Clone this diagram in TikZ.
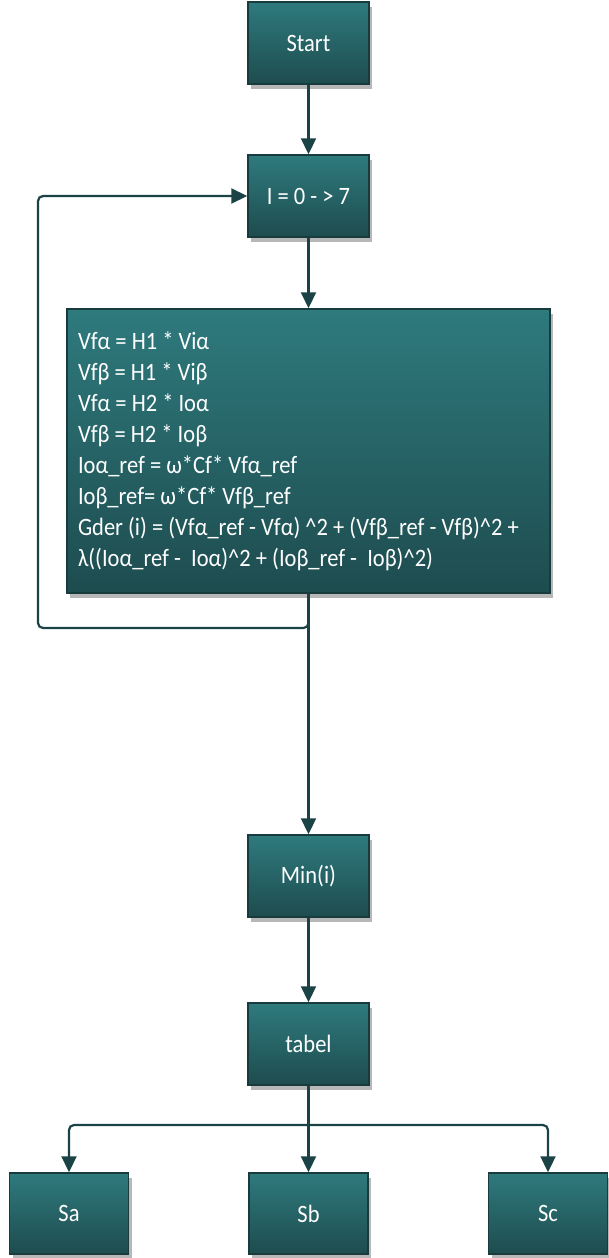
\documentclass[tikz,border=0pt]{standalone}
\usepackage{fontspec}
\setmainfont[FakeStretch=0.9]{Carlito}
\usetikzlibrary{arrows.meta,shadows}
\definecolor{topc}{HTML}{2E7A7D}
\definecolor{botc}{HTML}{1E4C4F}
\definecolor{edgec}{HTML}{183B3D}
\definecolor{linec}{HTML}{1B4345}
\begin{document}
\begin{tikzpicture}[x=1pt,y=-1pt,
 boxstyle/.style={draw=edgec, line width=1.5pt, top color=topc, bottom color=botc, text=white,
   font=\fontsize{25}{31}\selectfont, inner sep=0pt, minimum width=121pt, minimum height=82pt,
   drop shadow={shadow xshift=3pt, shadow yshift=-5pt, opacity=0.4, fill=black!70}},
 conn/.style={draw=linec, line width=2.2pt, rounded corners=5pt, -{Triangle[length=16pt,width=15pt]}},
 plainline/.style={draw=linec, line width=2.2pt, rounded corners=5pt}]
\useasboundingbox (0,0) rectangle (609,1258);
\node[boxstyle] (start) at (308.5,43) {Start};
\node[boxstyle] (iloop) at (308.5,196) {I = 0 - > 7};
\node[boxstyle, minimum width=483pt, minimum height=284pt, text width=461pt, inner xsep=11pt, align=flush left] (calc) at (308.5,451)
 {Vfα = H1 * Viα\\
  Vfβ = H1 * Viβ\\
  Vfα = H2 * Ioα\\
  Vfβ = H2 * Ioβ\\
  Ioα\_ref = ω*Cf* Vfα\_ref\\
  Ioβ\_ref= ω*Cf* Vfβ\_ref\\
  Gder (i) = (Vfα\_ref - Vfα) \^{}2 + (Vfβ\_ref - Vfβ)\^{}2 +\\
  λ((Ioα\_ref -\ \ Ioα)\^{}2 + (Ioβ\_ref -\ \ Ioβ)\^{}2)};
\node[boxstyle] (minn) at (308.5,876) {Min(i)};
\node[boxstyle] (tab) at (308.5,1044) {tabel};
\node[boxstyle, minimum width=119pt, minimum height=81pt] (sa) at (69,1213.5) {Sa};
\node[boxstyle, minimum width=119pt, minimum height=81pt] (sb) at (308.5,1213.5) {Sb};
\node[boxstyle, minimum width=119pt, minimum height=81pt] (sc) at (548,1213.5) {Sc};
\coordinate (cl) at (38,628);
\coordinate (sp) at (308.5,1125);
\draw[conn] (start) -- (iloop);
\draw[conn] (iloop) -- (calc);
\draw[conn] (calc) -- (minn);
\draw[conn] (calc.south) |- (cl) |- (iloop.west);
\draw[conn] (minn) -- (tab);
\draw[plainline] (tab.south) -- (sp);
\draw[conn] (sp) -| (sa.north);
\draw[conn] (sp) -- (sb.north);
\draw[conn] (sp) -| (sc.north);
\end{tikzpicture}
\end{document}
